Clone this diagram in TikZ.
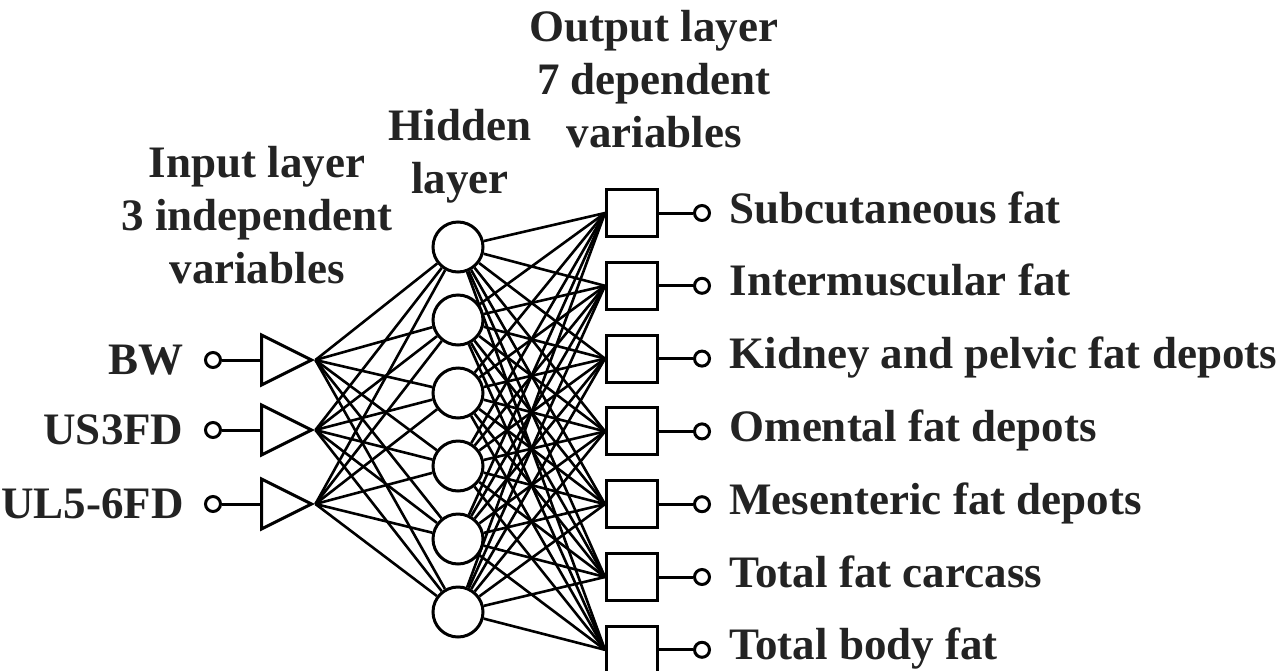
\documentclass[tikz,border=0pt]{standalone}
\usepackage{fontspec}
\setmainfont{Liberation Serif}
\usetikzlibrary{shapes.geometric,positioning,calc}
\definecolor{inkgray}{RGB}{35,35,35}

\begin{document}
\begin{tikzpicture}[x=1pt,y=-1pt,line width=3pt,
    hid/.style={circle,draw,fill=white,minimum size=50pt,inner sep=0pt},
    outbox/.style={rectangle,draw,fill=white,minimum width=51pt,minimum height=47pt,inner sep=0pt},
    inp/.style={isosceles triangle,isosceles triangle stretches,draw,fill=white,
      minimum width=50pt,minimum height=50pt,inner sep=0pt,anchor=lower side},
    pin/.style={circle,draw,fill=white,minimum size=15pt,inner sep=0pt},
    wire/.style={line width=2.6pt},
    lbl/.style={font=\fontsize{45}{53}\selectfont\bfseries,text=inkgray,inner sep=0pt},
    head/.style={lbl,align=center,anchor=north}]
    \useasboundingbox (0,0) rectangle (1285,670);
    % input layer
    \node[inp] (t1) at (260,360) {};
    \node[inp] (t2) at (260,430) {};
    \node[inp] (t3) at (260,504) {};
    \node[pin] (p1) at (213,360) {};
    \node[pin] (p2) at (213,430) {};
    \node[pin] (p3) at (213,504) {};
    \node[lbl,left=19pt of p1] (bw) {BW};
    \node[lbl,left=19pt of p2] (us) {US3FD};
    \node[lbl,left=19pt of p3] (ul) {UL5-6FD};
    \foreach \k in {1,2,3} \draw (p\k) -- (t\k);
    % hidden layer
    \foreach \i in {1,...,6}
        \node[hid] (h\i) at (458,{247+73*(\i-1)}) {};
    % output layer
    \foreach \j/\txt in {1/Subcutaneous fat,2/Intermuscular fat,3/Kidney and pelvic fat depots,
        4/Omental fat depots,5/Mesenteric fat depots,6/Total fat carcass,7/Total body fat} {
        \node[outbox] (o\j) at (632,{213+72.8*(\j-1)}) {};
        \node[pin] (q\j) at (702,{213+72.8*(\j-1)}) {};
        \node[lbl,anchor=base west] (ol\j) at ($(q\j)+(26,10)$) {\txt};
        \draw (o\j) -- (q\j);
    }
    % connections
    \foreach \k in {1,2,3}
        \foreach \i in {1,...,6}
            \draw[wire] (t\k.apex) -- (h\i);
    \foreach \i in {1,...,6}
        \foreach \j in {1,...,7}
            \draw[wire] (h\i) -- (o\j.west);
    % headings
    \node[head] (inhead) at (257,145) {Input layer\\3 independent\\variables};
    \node[head] (hidhead) at (460,108) {Hidden\\layer};
    \node[head] (outhead) at (654,9) {Output layer\\7 dependent\\variables};
\end{tikzpicture}
\end{document}
